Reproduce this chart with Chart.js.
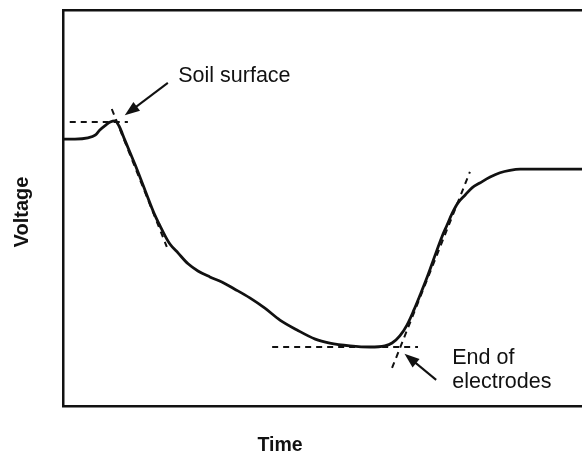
<!DOCTYPE html>
<html>
<head>
<meta charset="utf-8">
<script src="https://cdn.jsdelivr.net/npm/chart.js@4"></script>
<style>
  html, body { margin: 0; padding: 0; background: #fff; }
  #wrap { width: 582px; height: 455px; }
</style>
</head>
<body>
<div id="wrap"><canvas id="probe-chart"></canvas></div>
<script>
// voltage trace while the probe is pushed into the soil (time and voltage in arbitrary % units)
let timeValues = [0, 2.3, 4.8, 6.2, 7.1, 8.3, 9.1, 10.0, 10.8, 11.9, 13.9, 15.8, 17.7, 18.7, 19.7,
  20.6, 22.2, 24.1, 26.0, 28.3, 30.6, 33.1, 36.0, 38.9, 41.8, 45.1, 48.6, 51.4, 55.3, 59.2, 62.0,
  63.4, 64.9, 66.3, 67.6, 68.8, 70.1, 71.7, 73.0, 74.0, 75.0, 76.1, 77.5, 78.8, 80.3, 82.3, 84.2,
  86.1, 88.1, 91.9, 95.8, 100];
let voltageValues = [67.4, 67.4, 67.7, 68.4, 69.7, 71.0, 71.7, 72.0, 70.7, 67.2, 60.9, 54.5, 48.2, 45.5, 42.9,
  40.9, 38.6, 35.9, 34.1, 32.6, 31.3, 29.5, 27.3, 24.7, 21.7, 19.2, 16.9, 15.9, 15.2, 14.9, 15.2,
  15.9, 17.7, 20.5, 24.2, 28.0, 32.3, 38.1, 42.7, 45.7, 48.7, 51.3, 53.3, 55.1, 56.3, 57.8, 58.9,
  59.5, 59.8, 59.8, 59.8, 59.8];

// dashed construction lines: [time, voltage] end points
let surfaceLevel = [[1.3, 71.7], [12.5, 71.7]];
let surfaceTangent = [[9.4, 75.0], [20.0, 40.2]];
let bottomLevel = [[40.3, 14.9], [68.4, 14.9]];
let riseTangent = [[63.4, 9.6], [78.4, 59.1]];

// annotations: text anchor and arrow (from -> to) in data units
let soilLabel = { text: ['Soil surface'], t: 22.2, v: 83.3, arrow: [[20.2, 81.6], [11.9, 73.4]] };
let endLabel = { text: ['End of', 'electrodes'], t: 75.0, v: 12.1, arrow: [[71.9, 6.6], [65.8, 13.2]] };

let xTitle = 'Time';
let yTitle = 'Voltage';

let ink = '#111';

function toPoints(xs, ys) {
  return xs.map((x, i) => ({ x: x, y: ys[i] }));
}
function pairs(arr) {
  return arr.map(p => ({ x: p[0], y: p[1] }));
}

function dashed(data) {
  return {
    data: pairs(data),
    borderColor: ink,
    borderWidth: 2,
    borderDash: [6, 5],
    pointRadius: 0,
    tension: 0,
    fill: false,
  };
}

let annotations = {
  id: 'annotations',
  afterDatasetsDraw(chart) {
    let ctx = chart.ctx;
    let xs = chart.scales.x;
    let ys = chart.scales.y;
    ctx.save();
    ctx.fillStyle = ink;
    ctx.strokeStyle = ink;

    [soilLabel, endLabel].forEach(a => {
      ctx.font = '21.5px "Liberation Sans", Arial, sans-serif';
      ctx.textBaseline = 'middle';
      ctx.textAlign = 'left';
      let x = xs.getPixelForValue(a.t);
      let y = ys.getPixelForValue(a.v);
      a.text.forEach((line, i) => ctx.fillText(line, x, y + i * 24));

      let x1 = xs.getPixelForValue(a.arrow[0][0]);
      let y1 = ys.getPixelForValue(a.arrow[0][1]);
      let x2 = xs.getPixelForValue(a.arrow[1][0]);
      let y2 = ys.getPixelForValue(a.arrow[1][1]);
      let ang = Math.atan2(y2 - y1, x2 - x1);
      let head = 15;
      ctx.lineWidth = 2;
      ctx.beginPath();
      ctx.moveTo(x1, y1);
      ctx.lineTo(x2 - Math.cos(ang) * head * 0.8, y2 - Math.sin(ang) * head * 0.8);
      ctx.stroke();
      ctx.beginPath();
      ctx.moveTo(x2, y2);
      ctx.lineTo(x2 - head * Math.cos(ang) + 5.5 * Math.sin(ang), y2 - head * Math.sin(ang) - 5.5 * Math.cos(ang));
      ctx.lineTo(x2 - head * Math.cos(ang) - 5.5 * Math.sin(ang), y2 - head * Math.sin(ang) + 5.5 * Math.cos(ang));
      ctx.closePath();
      ctx.fill();
    });

    // axis titles
    let area = chart.chartArea;
    ctx.font = 'bold 19.5px "Liberation Sans", Arial, sans-serif';
    ctx.textAlign = 'center';
    ctx.textBaseline = 'middle';
    ctx.fillText(xTitle, 280, area.bottom + 40);
    ctx.translate(22, 212);
    ctx.rotate(-Math.PI / 2);
    ctx.font = 'bold 20px "Liberation Sans", Arial, sans-serif';
    ctx.fillText(yTitle, 0, 0);
    ctx.restore();
  }
};

let hiddenAxis = (pos) => ({
  type: 'linear',
  position: pos,
  min: 0,
  max: 100,
  ticks: { display: false },
  grid: { display: false, drawTicks: false },
  border: { display: true, color: ink, width: 2.5 },
});

new Chart(document.getElementById('probe-chart'), {
  type: 'line',
  data: {
    datasets: [
      {
        data: toPoints(timeValues, voltageValues),
        borderColor: ink,
        borderWidth: 2.8,
        pointRadius: 0,
        cubicInterpolationMode: 'monotone',
        fill: false,
      },
      dashed(surfaceLevel),
      dashed(surfaceTangent),
      dashed(bottomLevel),
      dashed(riseTangent),
    ],
  },
  options: {
    responsive: true,
    maintainAspectRatio: false,
    animation: false,
    layout: { padding: { left: 63, top: 10, right: 0, bottom: 49 } },
    plugins: { legend: { display: false }, tooltip: { enabled: false } },
    scales: {
      x: hiddenAxis('bottom'),
      xTop: hiddenAxis('top'),
      y: hiddenAxis('left'),
    },
  },
  plugins: [annotations],
});
</script>
</body>
</html>
